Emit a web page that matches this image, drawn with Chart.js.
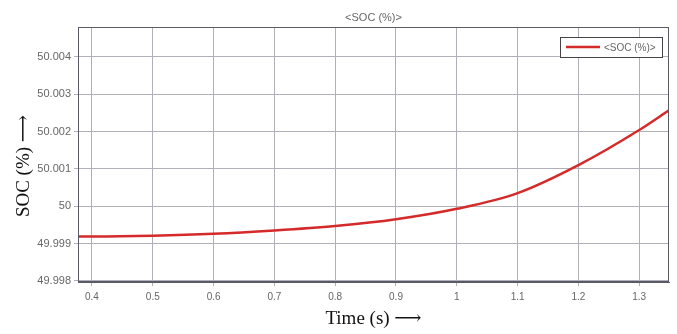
<!DOCTYPE html>
<html>
<head>
<meta charset="utf-8">
<script src="https://cdn.jsdelivr.net/npm/chart.js@4"></script>
<style>
  html, body { margin: 0; padding: 0; background: #fff; }
  #wrap { width: 677px; height: 334px; position: relative; }
</style>
</head>
<body>
<div id="wrap"><canvas id="socChart" width="677" height="334"></canvas></div>
<script>
// datos
const tiempos = [0.377, 0.4, 0.5, 0.6, 0.7, 0.8, 0.9, 1.0, 1.1, 1.2, 1.3, 1.349];
const soc = [49.99919, 49.99919, 49.99921, 49.99926, 49.99935, 49.99947, 49.99965, 49.99993, 50.00035, 50.00110, 50.00204, 50.00257];
const xTicks = [0.4, 0.5, 0.6, 0.7, 0.8, 0.9, 1.0, 1.1, 1.2, 1.3];
const xLabels = ['0.4', '0.5', '0.6', '0.7', '0.8', '0.9', '1', '1.1', '1.2', '1.3'];
const yTicks = [49.998, 49.999, 50.0, 50.001, 50.002, 50.003, 50.004];
const yLabels = ['49.998', '49.999', '50', '50.001', '50.002', '50.003', '50.004'];

const titulo = '<SOC (%)>';
const tituloY = 'SOC (%) \u27F6';

const puntos = tiempos.map((t, i) => ({ x: t, y: soc[i] }));

// borde completo, titulo, titulo del eje y, y leyenda dentro del area
const cajaPlugin = {
    id: 'caja',
    afterDraw(chart) {
        const { ctx, chartArea: a } = chart;
        ctx.save();
        ctx.strokeStyle = '#5a5a66';
        ctx.lineWidth = 1;
        ctx.strokeRect(a.left + 0.5, a.top + 0.5, a.right - a.left - 1, a.bottom - a.top - 1);

        // titulo centrado sobre el area
        ctx.fillStyle = '#666';
        ctx.font = '11px "Liberation Sans", Arial, sans-serif';
        ctx.textAlign = 'center';
        ctx.textBaseline = 'middle';
        ctx.fillText(titulo, (a.left + a.right) / 2, a.top - 9);

        // titulo eje y
        ctx.save();
        ctx.translate(24, 166);
        ctx.rotate(-Math.PI / 2);
        ctx.fillStyle = '#111';
        ctx.font = '19px "Liberation Serif", "DejaVu Serif", serif';
        ctx.fillText(tituloY, 0, 0);
        ctx.restore();

        // leyenda
        const ds = chart.data.datasets[0];
        const w = 102, h = 20;
        const x0 = a.right - w - 7, y0 = a.top + 10;
        ctx.fillStyle = '#fff';
        ctx.fillRect(x0, y0, w, h);
        ctx.strokeStyle = '#444';
        ctx.strokeRect(x0 + 0.5, y0 + 0.5, w, h);
        ctx.strokeStyle = ds.borderColor;
        ctx.lineWidth = 2.5;
        ctx.beginPath();
        ctx.moveTo(x0 + 6, y0 + h / 2);
        ctx.lineTo(x0 + 40, y0 + h / 2);
        ctx.stroke();
        ctx.fillStyle = '#666';
        ctx.font = '10px "Liberation Sans", Arial, sans-serif';
        ctx.textAlign = 'left';
        ctx.fillText(ds.label, x0 + 44, y0 + h / 2 + 1);
        ctx.restore();
    }
};

new Chart(document.getElementById('socChart'), {
    type: 'line',
    data: {
        datasets: [{
            label: '<SOC (%)>',
            data: puntos,
            borderColor: '#d42a2a',
            borderWidth: 2.5,
            pointRadius: 0,
            fill: false,
            cubicInterpolationMode: 'monotone'
        }]
    },
    options: {
        responsive: false,
        animation: false,
        layout: { padding: { left: 0, right: 8, top: 27, bottom: 0 } },
        plugins: {
            legend: { display: false },
            tooltip: { enabled: false },
            title: { display: false }
        },
        scales: {
            x: {
                type: 'linear',
                min: 0.377,
                max: 1.349,
                afterBuildTicks: (s) => { s.ticks = xTicks.map(v => ({ value: v })); },
                afterFit: (s) => { s.height = 52; },
                ticks: {
                    callback: (v) => xLabels[xTicks.indexOf(v)],
                    color: '#666',
                    font: { family: '"Liberation Sans", Arial, sans-serif', size: 10 },
                    padding: 5,
                    maxRotation: 0
                },
                grid: { color: '#b0b0b8', tickLength: 4 },
                border: { color: '#5a5a66' },
                title: {
                    display: true,
                    text: 'Time (s) \u27F6',
                    color: '#111',
                    font: { family: '"Liberation Serif", "DejaVu Serif", serif', size: 19 },
                    padding: { top: 4 }
                }
            },
            y: {
                min: 49.99797,
                max: 50.0048,
                afterBuildTicks: (s) => { s.ticks = yTicks.map(v => ({ value: v })); },
                afterFit: (s) => { s.width = 78; },
                ticks: {
                    callback: (v) => yLabels[yTicks.findIndex(t => Math.abs(t - v) < 1e-7)],
                    color: '#666',
                    font: { family: '"Liberation Sans", Arial, sans-serif', size: 11 },
                    padding: 3
                },
                grid: { color: '#b0b0b8', tickLength: 4 },
                border: { color: '#5a5a66' }
            }
        }
    },
    plugins: [cajaPlugin]
});
</script>
</body>
</html>
